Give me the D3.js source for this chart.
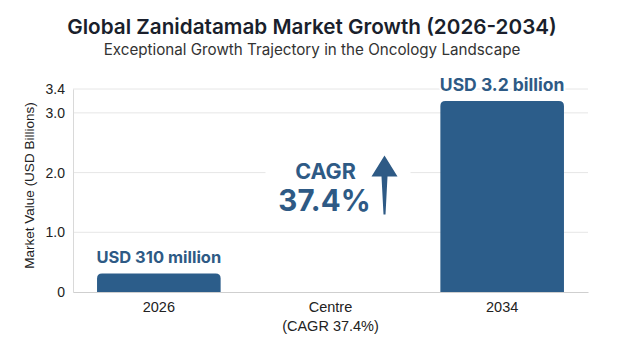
<!DOCTYPE html>
<html>
<head>
<meta charset="utf-8">
<script src="https://cdn.jsdelivr.net/npm/d3@7"></script>
<style>
  body { margin: 0; background: #fff; }
  svg { display: block; }
</style>
</head>
<body>
<div id="chart"></div>
<script>
// chart data
const categories = ["2026", "Centre", "2034"];
const values = [0.31, null, 3.2];
const barLabels = ["USD 310 million", null, "USD 3.2 billion"];
const yTicks = [0, 1.0, 2.0, 3.0, 3.4];
const cagrText = ["CAGR", "37.4%"];

const width = 624;
const height = 348;
const margin = {top: 89, right: 36, bottom: 56, left: 73};
const innerW = width - margin.left - margin.right;
const innerH = height - margin.top - margin.bottom;

const barColor = "#2c5d8a";
const labelColor = "#2e5a85";

const svg = d3.select("#chart")
    .append("svg")
    .attr("width", width)
    .attr("height", height);

// Title + subtitle
svg.append("text")
    .attr("x", width / 2)
    .attr("y", 34)
    .attr("text-anchor", "middle")
    .attr("font-family", "Inter, 'Noto Sans', sans-serif")
    .attr("font-weight", 600)
    .attr("font-size", 20.7)
    .attr("fill", "#1a1f2c")
    .text("Global Zanidatamab Market Growth (2026-2034)");

svg.append("text")
    .attr("x", width / 2)
    .attr("y", 55)
    .attr("text-anchor", "middle")
    .attr("font-family", "Inter, 'Noto Sans', sans-serif")
    .attr("font-size", 15.2)
    .attr("fill", "#333")
    .text("Exceptional Growth Trajectory in the Oncology Landscape");

const g = svg.append("g")
    .attr("transform", `translate(${margin.left},${margin.top})`);

const x = d3.scaleBand()
    .domain(categories)
    .range([0, innerW])
    .paddingInner(0.28)
    .paddingOuter(0.14);

const y = d3.scaleLinear()
    .domain([0, 3.4])
    .range([innerH, 0]);

// Gridlines
g.append("g")
    .selectAll("line")
    .data(yTicks.filter(d => d > 0))
    .join("line")
    .attr("x1", 0)
    .attr("x2", innerW)
    .attr("y1", d => y(d))
    .attr("y2", d => y(d))
    .attr("stroke", "#e6e6e6")
    .attr("stroke-width", 1);

// Y axis
const yAxis = g.append("g")
    .call(d3.axisLeft(y).tickValues(yTicks).tickSize(0).tickPadding(8)
        .tickFormat(d => d === 0 ? "0" : d3.format(".1f")(d)));
yAxis.select(".domain").attr("stroke", "#d9d9d9");
yAxis.selectAll("text")
    .attr("font-family", "'Liberation Sans', Arial, sans-serif")
    .attr("font-size", 14)
    .attr("fill", "#222");

// X axis
const xAxis = g.append("g")
    .attr("transform", `translate(0,${innerH})`)
    .call(d3.axisBottom(x).tickSize(0).tickFormat(() => ""));
xAxis.select(".domain").attr("stroke", "#cfcfcf");
xAxis.selectAll(".tick text").remove();

const xLabels = [["2026"], ["Centre", "(CAGR 37.4%)"], ["2034"]];
g.append("g")
    .selectAll("text")
    .data(categories)
    .join("text")
    .attr("x", d => x(d) + x.bandwidth() / 2)
    .attr("y", innerH + 20)
    .attr("text-anchor", "middle")
    .attr("font-family", "'Liberation Sans', Arial, sans-serif")
    .attr("font-size", 14.5)
    .attr("fill", "#222")
    .each(function(d, i) {
        d3.select(this).selectAll("tspan")
            .data(xLabels[i])
            .join("tspan")
            .attr("x", x(d) + x.bandwidth() / 2)
            .attr("dy", (t, j) => j === 0 ? 0 : 18.5)
            .text(t => t);
    });

// Bars, rounded top corners
const r = 5;
const barData = categories.map((c, i) => ({cat: c, value: values[i], label: barLabels[i]}))
    .filter(d => d.value != null);

g.append("g")
    .selectAll("path")
    .data(barData)
    .join("path")
    .attr("fill", barColor)
    .attr("d", d => {
        const x0 = x(d.cat), x1 = x0 + x.bandwidth();
        const yt = y(d.value), yb = y(0);
        return `M${x0},${yb}V${yt + r}Q${x0},${yt} ${x0 + r},${yt}` +
               `H${x1 - r}Q${x1},${yt} ${x1},${yt + r}V${yb}Z`;
    });

// Bar value labels
g.append("g")
    .selectAll("text")
    .data(barData)
    .join("text")
    .attr("x", d => x(d.cat) + x.bandwidth() / 2)
    .attr("y", d => y(d.value) - 10)
    .attr("text-anchor", "middle")
    .attr("font-family", "Inter, 'Liberation Sans', sans-serif")
    .attr("font-weight", 700)
    .attr("font-size", d => d.value > 1 ? 17.5 : 16.5)
    .attr("fill", labelColor)
    .attr("stroke", "#fff")
    .attr("stroke-width", 4)
    .attr("paint-order", "stroke")
    .text(d => d.label);

// CAGR annotation in the centre band
const cx = x("Centre") + x.bandwidth() / 2;
const ann = g.append("g");
ann.append("rect")
    .attr("x", cx - 65)
    .attr("y", y(2.0) - 20)
    .attr("width", 145)
    .attr("height", 70)
    .attr("fill", "#fff");

ann.append("text")
    .attr("x", cx - 5)
    .attr("y", y(2.0) + 6)
    .attr("text-anchor", "middle")
    .attr("font-family", "Inter, 'Liberation Sans', sans-serif")
    .attr("font-weight", 700)
    .attr("font-size", 21.5)
    .attr("fill", labelColor)
    .text(cagrText[0]);

ann.append("text")
    .attr("x", cx - 6)
    .attr("y", y(2.0) + 38)
    .attr("text-anchor", "middle")
    .attr("font-family", "Inter, 'Liberation Sans', sans-serif")
    .attr("font-weight", 700)
    .attr("font-size", 29.5)
    .attr("fill", labelColor)
    .text(cagrText[1]);

// Up arrow
const ax = cx + 54;
const tipY = y(2.0) - 17;
const headY = y(2.0) + 4;
const baseY = y(2.0) + 42;
ann.append("path")
    .attr("fill", labelColor)
    .attr("d", `M${ax},${tipY}L${ax + 13},${headY}L${ax + 3},${headY}` +
               `L${ax + 1},${baseY}L${ax - 1},${baseY}L${ax - 3},${headY}L${ax - 13},${headY}Z`);

// Y axis title
svg.append("text")
    .attr("transform", `translate(34,${margin.top + innerH / 2 - 5}) rotate(-90)`)
    .attr("text-anchor", "middle")
    .attr("font-family", "'Liberation Sans', Arial, sans-serif")
    .attr("font-size", 13.5)
    .attr("fill", "#222")
    .text("Market Value (USD Billions)");
</script>
</body>
</html>
